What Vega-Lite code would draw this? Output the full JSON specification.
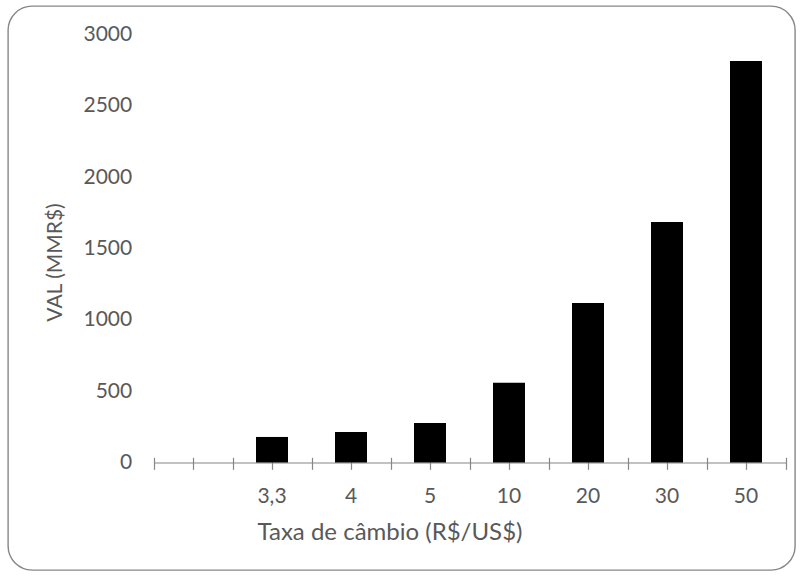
{
  "$schema": "https://vega.github.io/schema/vega-lite/v6.json",
  "width": 787,
  "height": 564,
  "autosize": {"type": "none"},
  "padding": {"left": 8, "top": 6, "right": 8, "bottom": 7},
  "background": "white",
  "config": {
    "view": {"stroke": "#868686", "strokeWidth": 1.4, "cornerRadius": 24},
    "font": "Lato",
    "axis": {"labelFont": "Lato", "titleFont": "Lato", "labelColor": "#595959", "titleColor": "#595959", "grid": false, "titleFontWeight": "normal"}
  },
  "data": {
    "values": [
      {"taxa": "3,3", "val": 179},
      {"taxa": "4", "val": 214},
      {"taxa": "5", "val": 277},
      {"taxa": "10", "val": 559},
      {"taxa": "20", "val": 1118},
      {"taxa": "30", "val": 1686},
      {"taxa": "50", "val": 2814}
    ]
  },
  "layer": [
    {
      "mark": {"type": "bar", "color": "#000000", "width": {"band": 0.405}},
      "encoding": {
        "x": {
          "field": "taxa",
          "type": "nominal",
          "sort": null,
          "scale": {"type": "band", "domain": ["", "3,3", "4", "5", "10", "20", "30", "50"], "range": [145.5, 777.5], "paddingInner": 0, "paddingOuter": 0},
          "axis": {
            "orient": "bottom",
            "offset": -107.5,
            "domain": true,
            "domainColor": "#868686",
            "domainWidth": 1.2,
            "ticks": false,
            "tickSize": 0,
            "labelAngle": 0,
            "labelFontSize": 21,
            "labelBaseline": "alphabetic",
            "labelPadding": 39.5,
            "title": "Taxa de câmbio (R$/US$)",
            "titleFontSize": 24,
            "titleX": 381.5,
            "titleY": 77,
            "titleAlign": "center",
            "titleBaseline": "alphabetic",
            "titleAngle": 0
          }
        },
        "y": {
          "field": "val",
          "type": "quantitative",
          "scale": {"domain": [-753.5, 3199.8], "nice": false, "zero": false},
          "axis": {
            "orient": "left",
            "offset": -123.7,
            "values": [0, 500, 1000, 1500, 2000, 2500, 3000],
            "format": "d",
            "domain": false,
            "ticks": false,
            "tickSize": 0,
            "labelPadding": 0,
            "labelFontSize": 21,
            "labelBaseline": "middle",
            "title": "VAL (MMR$)",
            "titleFontSize": 21,
            "titleAngle": -90,
            "titleX": -70.7,
            "titleY": 256,
            "titleAlign": "center",
            "titleBaseline": "alphabetic"
          }
        },
        "y2": {"datum": 0}
      }
    },
    {
      "mark": {"type": "point", "opacity": 0},
      "encoding": {
        "x": {
          "field": "taxa",
          "type": "nominal",
          "sort": null,
          "scale": {"type": "band", "domain": ["", "3,3", "4", "5", "10", "20", "30", "50"], "range": [145.5, 777.5], "paddingInner": 0, "paddingOuter": 0},
          "axis": {
            "orient": "bottom",
            "offset": -112.7,
            "domain": false,
            "labels": false,
            "ticks": true,
            "tickBand": "extent",
            "tickSize": 12,
            "tickColor": "#868686",
            "tickWidth": 1.2,
            "title": null
          }
        }
      }
    },
    {
      "mark": {"type": "point", "opacity": 0},
      "encoding": {
        "x": {
          "field": "taxa",
          "type": "nominal",
          "sort": null,
          "scale": {"type": "band", "domain": ["", "3,3", "4", "5", "10", "20", "30", "50"], "range": [145.5, 777.5], "paddingInner": 0, "paddingOuter": 0},
          "axis": {
            "orient": "bottom",
            "offset": -112.7,
            "domain": false,
            "labels": false,
            "ticks": true,
            "tickBand": "center",
            "tickSize": 12,
            "tickColor": "#868686",
            "tickWidth": 1.2,
            "title": null
          }
        }
      }
    }
  ],
  "resolve": {"scale": {"x": "independent"}, "axis": {"x": "independent"}}
}
